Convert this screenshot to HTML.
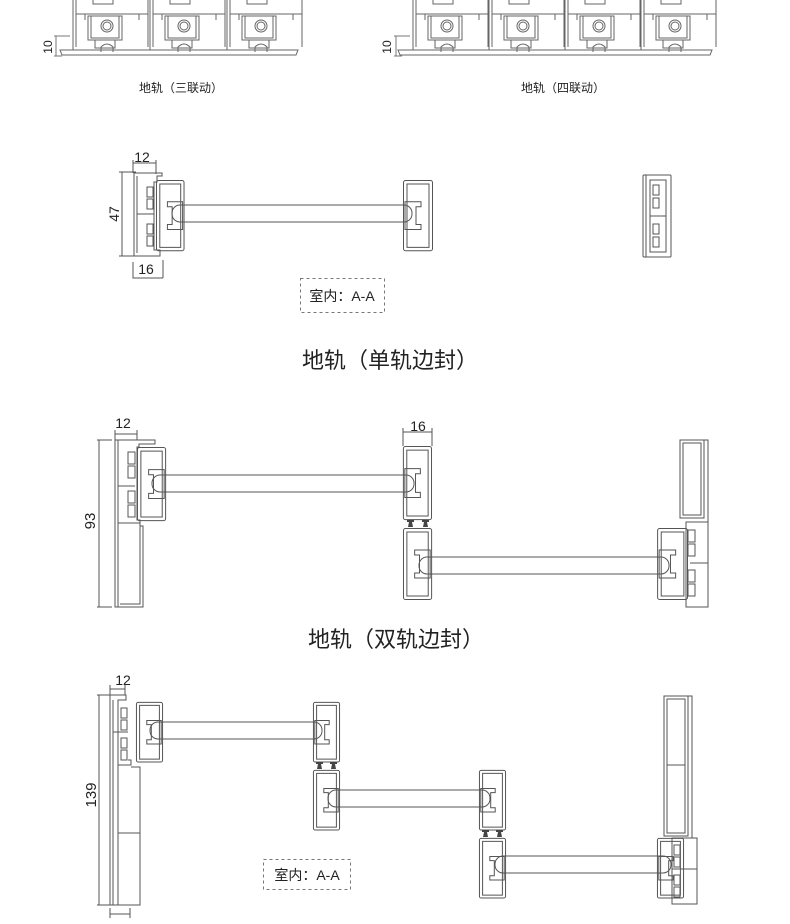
<!DOCTYPE html>
<html><head><meta charset="utf-8"><style>
html,body{margin:0;padding:0;background:#fff;}
svg{display:block}
text{font-family:"Liberation Sans","Noto Sans CJK SC",sans-serif;fill:#222}
</style></head><body>
<svg width="790" height="924" viewBox="0 0 790 924" xmlns="http://www.w3.org/2000/svg">
<defs>
<g id="unit" fill="none" stroke="#666" stroke-width="1">
  <path d="M0,0 V50 M3,0 V47 M75,0 V47"/>
  <rect x="20" y="-2" width="20" height="6"/>
  <path d="M3,14 H12 V20 M75,14 H66 V20 M12,14 H66"/>
  <rect x="15" y="16" width="34" height="24"/>
  <path d="M18,16 V38 H46 V16"/>
  <circle cx="34" cy="26" r="6"/><circle cx="34" cy="26" r="4"/>
  <rect x="22" y="40" width="20" height="8"/>
  <path d="M28,52 V47 Q34,41 40,47 V52"/>
</g>
<g id="sash" fill="none" stroke="#555" stroke-width="1">
  <rect x="0.5" y="0.5" width="29" height="71" rx="2" vector-effect="non-scaling-stroke"/>
  <rect x="4" y="4" width="22" height="64" vector-effect="non-scaling-stroke"/>
  <path d="M12,22 H28 V50 H12 V45 H17 V27 H12 Z" vector-effect="non-scaling-stroke"/>
</g>
<g id="seal" fill="#444">
  <path d="M0,0 H7 V2 H5 L6,7 H1 L2,2 H0 Z"/>
</g>
</defs>

<!-- top partial drawings -->
<use href="#unit" x="73" y="0"/><use href="#unit" x="150" y="0"/><use href="#unit" x="227" y="0"/>
<path d="M60,50 H298 L296,55 H62 Z" fill="none" stroke="#666"/>
<path d="M56,36 V56 M54,36 H70 M54,56 H62" stroke="#777" fill="none"/>
<text x="52" y="47" font-size="12" transform="rotate(-90 52 47)" text-anchor="middle">10</text>
<text x="181" y="92" font-size="12" text-anchor="middle">地轨（三联动）</text>

<use href="#unit" x="413" y="0"/><use href="#unit" x="489" y="0"/><use href="#unit" x="565" y="0"/><use href="#unit" x="641" y="0"/>
<path d="M398,50 H712 L710,55 H400 Z" fill="none" stroke="#666"/>
<path d="M396,36 V56 M394,36 H410 M394,56 H402" stroke="#777" fill="none"/>
<text x="391" y="47" font-size="12" transform="rotate(-90 391 47)" text-anchor="middle">10</text>
<text x="563" y="92" font-size="12" text-anchor="middle">地轨（四联动）</text>

<!-- Section 1 -->
<g fill="none" stroke="#555" stroke-width="1">
  <path d="M133,163 H156 M133,160 V173 M156,160 V174"/>
  <path d="M122,172 V256 M119,172 H136 M119,256 H136"/>
  <path d="M133,262 V278 H163 M163,260 V278"/>
  <path d="M134,173 H162 V176 H157 V182 H154 V250 H160 V256 H134 Z"/>
  <path d="M137,176 V253"/>
  <rect x="147" y="187" width="6" height="10"/><rect x="147" y="199" width="6" height="10"/>
  <rect x="147" y="224" width="6" height="10"/><rect x="147" y="236" width="6" height="10"/>
  <path d="M137,214 H154"/>
</g>
<use href="#sash" transform="translate(156,180) scale(0.95,0.99)"/>
<rect x="172" y="205" width="240" height="17" rx="8" fill="none" stroke="#555"/>
<use href="#sash" transform="translate(433,180) scale(-1,0.99)"/>
<g fill="none" stroke="#555">
  <rect x="643" y="175" width="28" height="82" rx="1"/>
  <path d="M646,175 V257 M650,180 H666 V252 H650 Z M650,216 H666"/>
  <rect x="653" y="185" width="6" height="10"/><rect x="653" y="198" width="6" height="10"/>
  <rect x="653" y="224" width="6" height="10"/><rect x="653" y="237" width="6" height="10"/>
</g>
<text x="142" y="162" font-size="14" text-anchor="middle">12</text>
<text x="119" y="214" font-size="14" text-anchor="middle" transform="rotate(-90 119 214)">47</text>
<text x="146" y="274" font-size="14" text-anchor="middle">16</text>
<rect x="300.5" y="278.5" width="84" height="34" fill="none" stroke="#777" stroke-dasharray="3,3"/>
<text x="342" y="301" font-size="14" text-anchor="middle">室内：A-A</text>
<text x="390" y="368" font-size="22" text-anchor="middle">地轨（单轨边封）</text>

<!-- Section 2 -->
<g fill="none" stroke="#555">
  <path d="M99,440 V607 M97,440 H112 M97,607 H112"/>
  <path d="M115,430 V440 M137,430 V440 M115,434 H137"/>
  <path d="M115,440 H155 V444 H139 V447 H137 V520 H140 V526 H143 V607 H115 Z"/>
  <path d="M118,440 V607 M118,523 H140 M120,604 H140 V526"/>
  <path d="M118,486 H135"/>
  <rect x="128" y="452" width="7" height="12"/><rect x="128" y="466" width="7" height="12"/>
  <rect x="128" y="491" width="7" height="12"/><rect x="128" y="505" width="7" height="12"/>
  <path d="M403,432 H432 M403,428 V446 M432,428 V446"/>
  <rect x="680" y="440" width="24" height="78"/>
  <path d="M683,443 V515 H701 V443 Z"/>
  <path d="M704,440 H708 V522"/>
  <rect x="686" y="522" width="22" height="85"/>
  <path d="M690,563 H708"/>
  <rect x="688" y="530" width="7" height="12"/><rect x="688" y="544" width="7" height="12"/>
  <rect x="688" y="570" width="7" height="12"/><rect x="688" y="584" width="7" height="12"/>
</g>
<use href="#sash" transform="translate(137,447) scale(0.97,1.03)"/>
<rect x="152" y="475" width="262" height="17" rx="8" fill="none" stroke="#555"/>
<use href="#sash" transform="translate(432,446) scale(-0.97,1.03)"/>
<use href="#seal" x="407" y="520"/><use href="#seal" x="422" y="520"/>
<use href="#sash" transform="translate(403,528) scale(0.97,1.0)"/>
<rect x="419" y="557" width="250" height="17" rx="8" fill="none" stroke="#555"/>
<use href="#sash" transform="translate(688,528) scale(-1.03,1.0)"/>
<text x="123" y="428" font-size="14" text-anchor="middle">12</text>
<text x="418" y="431" font-size="14" text-anchor="middle">16</text>
<text x="95" y="521" font-size="15" text-anchor="middle" transform="rotate(-90 95 521)">93</text>
<text x="396" y="647" font-size="22" text-anchor="middle">地轨（双轨边封）</text>

<!-- Section 3 -->
<g fill="none" stroke="#555">
  <path d="M99,695 V905 M97,695 H112 M97,905 H112"/>
  <path d="M110,685 V695 M125,685 V695 M110,689 H125"/>
  <path d="M110,695 H126 V700 H118 V905 H110 Z M113,700 V905"/>
  <path d="M118,765 H131 V760 H128 M118,765 V905 H140 V767 H131"/>
  <path d="M118,833 H140"/>
  <path d="M110,908 V918 M130,908 V918 M110,914 H130"/>
  <rect x="121" y="708" width="6" height="10"/><rect x="121" y="720" width="6" height="10"/>
  <rect x="121" y="738" width="6" height="10"/><rect x="121" y="750" width="6" height="10"/>
  <path d="M113,732 H128"/>
  <rect x="664" y="696" width="24" height="140"/>
  <path d="M667,699 V833 H685 V699 Z M667,765 H685"/>
  <path d="M688,696 H692 V838"/>
  <rect x="672" y="838" width="25" height="66"/>
  <path d="M672,869 H697"/>
  <rect x="674" y="845" width="6" height="10"/><rect x="674" y="857" width="6" height="10"/>
  <rect x="674" y="875" width="6" height="10"/><rect x="674" y="887" width="6" height="10"/>
</g>
<use href="#sash" transform="translate(136,702) scale(0.9,0.84)"/>
<rect x="150" y="722" width="172" height="17" rx="8" fill="none" stroke="#555"/>
<use href="#sash" transform="translate(340,702) scale(-0.9,0.84)"/>
<use href="#seal" x="316" y="762"/><use href="#seal" x="330" y="762"/>
<use href="#sash" transform="translate(313,770) scale(0.9,0.84)"/>
<rect x="328" y="790" width="162" height="17" rx="8" fill="none" stroke="#555"/>
<use href="#sash" transform="translate(506,770) scale(-0.9,0.84)"/>
<use href="#seal" x="482" y="830"/><use href="#seal" x="496" y="830"/>
<use href="#sash" transform="translate(479,838) scale(0.9,0.84)"/>
<rect x="495" y="856" width="176" height="17" rx="8" fill="none" stroke="#555"/>
<use href="#sash" transform="translate(684,838) scale(-0.9,0.84)"/>
<text x="123" y="685" font-size="14" text-anchor="middle">12</text>
<text x="96" y="795" font-size="15" text-anchor="middle" transform="rotate(-90 96 795)">139</text>
<rect x="263.5" y="859.5" width="87" height="30" fill="none" stroke="#777" stroke-dasharray="3,3"/>
<text x="307" y="880" font-size="14" text-anchor="middle">室内：A-A</text>
</svg>
</body></html>
